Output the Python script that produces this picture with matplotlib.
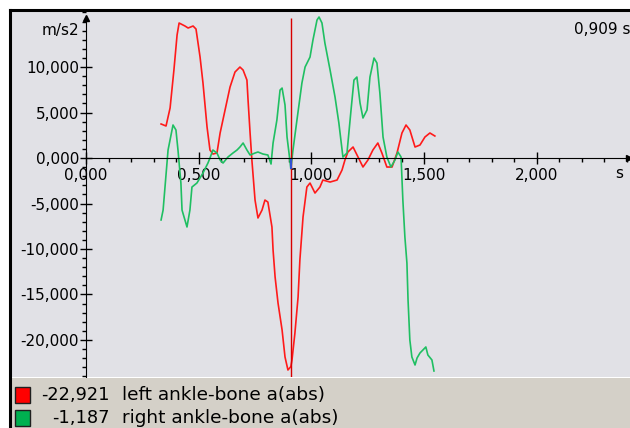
import matplotlib.pyplot as plt
from matplotlib.patches import Rectangle
from matplotlib.lines import Line2D
from matplotlib.ticker import MultipleLocator, FixedLocator, FuncFormatter

# acceleration traces, time in s, acceleration in m/s2
left_t = [0.333, 0.355, 0.373, 0.390, 0.404, 0.413, 0.439, 0.453, 0.475, 0.488,
          0.506, 0.519, 0.537, 0.550, 0.563, 0.581, 0.595, 0.617, 0.639, 0.661,
          0.683, 0.697, 0.714, 0.719, 0.728, 0.736, 0.750, 0.763, 0.781, 0.794,
          0.807, 0.825, 0.830, 0.839, 0.852, 0.870, 0.883, 0.896, 0.909, 0.914,
          0.927, 0.941, 0.949, 0.963, 0.980, 0.994, 1.016, 1.038, 1.051, 1.083,
          1.114, 1.136, 1.149, 1.162, 1.185, 1.207, 1.229, 1.251, 1.273, 1.295,
          1.313, 1.335, 1.358, 1.380, 1.402, 1.420, 1.437, 1.460, 1.482, 1.504,
          1.526, 1.548]
left_a = [3.74, 3.52, 5.50, 9.67, 13.52, 14.84, 14.51, 14.29, 14.51, 14.18,
          11.10, 8.24, 3.41, 0.88, 0.44, 0.55, 2.75, 5.28, 7.80, 9.45,
          10.00, 9.67, 8.57, 6.37, 2.75, -0.22, -4.62, -6.59, -5.72, -4.62,
          -4.84, -7.58, -10.11, -13.08, -15.94, -18.90, -21.87, -23.30, -22.921, -22.20,
          -19.23, -15.28, -11.21, -6.48, -3.19, -2.75, -3.85, -3.19, -2.42, -2.64,
          -2.42, -1.32, -0.22, 0.66, 1.21, 0.11, -0.99, -0.22, 0.88, 1.65,
          0.55, -0.99, -0.99, 0.55, 2.75, 3.63, 3.08, 1.21, 1.43, 2.31,
          2.75, 2.42]

right_t = [0.333, 0.342, 0.364, 0.386, 0.399, 0.408, 0.421, 0.426, 0.448, 0.461,
           0.470, 0.492, 0.519, 0.541, 0.550, 0.563, 0.581, 0.595, 0.608, 0.630,
           0.652, 0.670, 0.683, 0.697, 0.714, 0.728, 0.750, 0.763, 0.785, 0.807,
           0.821, 0.830, 0.847, 0.861, 0.870, 0.883, 0.892, 0.901, 0.909, 0.918,
           0.936, 0.958, 0.972, 0.994, 1.007, 1.025, 1.034, 1.047, 1.060, 1.083,
           1.105, 1.122, 1.140, 1.158, 1.176, 1.189, 1.202, 1.216, 1.229, 1.247,
           1.260, 1.278, 1.291, 1.304, 1.318, 1.335, 1.353, 1.371, 1.384, 1.398,
           1.406, 1.415, 1.424, 1.429, 1.437, 1.446, 1.460, 1.469, 1.482, 1.508,
           1.517, 1.535, 1.544]
right_a = [-6.81, -5.72, 0.88, 3.63, 3.08, 0.88, -2.75, -5.72, -7.58, -5.72,
           -3.19, -2.75, -1.65, -0.55, 0.00, 0.88, 0.55, -0.22, -0.55, 0.11,
           0.55, 0.88, 1.21, 1.65, 0.88, 0.33, 0.55, 0.66, 0.44, 0.33,
           -0.66, 1.65, 4.18, 7.47, 7.69, 5.83, 2.31, 0.50, -1.187, 0.80,
           4.18, 8.24, 10.00, 11.10, 12.97, 15.17, 15.50, 14.84, 12.64, 9.67,
           6.70, 3.85, 0.11, 0.55, 5.28, 8.57, 8.90, 6.04, 4.40, 5.28,
           8.90, 10.99, 10.44, 7.14, 2.31, 0.11, -0.99, -0.22, 0.66, 0.11,
           -4.62, -8.68, -11.54, -15.61, -20.00, -21.87, -22.75, -21.98, -21.43, -20.77,
           -21.65, -22.20, -23.41]

names = ["left ankle-bone a(abs)", "right ankle-bone a(abs)"]
colors = ["#ff1a1a", "#1fbf62"]
swatch_colors = ["#ff0000", "#00b050"]
cursor_t = 0.909

x_ticks = [0.0, 0.5, 1.0, 1.5, 2.0]
x_minor = [0.1, 0.2, 0.3, 0.4, 0.6, 0.7, 0.8, 0.9, 1.1, 1.2, 1.3, 1.4,
           1.6, 1.7, 1.8, 1.9, 2.1, 2.2, 2.3, 2.4]
y_ticks = [-20, -15, -10, -5, 0, 5, 10]


def comma(v, pos=None):
    return f"{v:.3f}".replace(".", ",")


W, H = 630, 428
fig = plt.figure(figsize=(W / 100, H / 100), dpi=100)
fig.patch.set_facecolor("white")

ax = fig.add_axes([11 / W, 51 / H, 619 / W, 365 / H])
ax.set_facecolor("#e1e1e6")
ax.set_xlim(-0.333, 2.414)
ax.set_ylim(-24.07, 16.05)

# axes cross at the origin
for side in ["top", "right"]:
    ax.spines[side].set_visible(False)
ax.spines["left"].set_position(("data", 0))
ax.spines["bottom"].set_position(("data", 0))
ax.spines["left"].set_bounds(-24.07, 15.4)
ax.spines["bottom"].set_bounds(0, 2.41)
ax.plot(0, 15.4, marker="^", color="black", markersize=4, clip_on=False)
ax.plot(2.41, 0, marker=">", color="black", markersize=4, clip_on=False)

ax.set_xticks(x_ticks)
ax.set_yticks(y_ticks)
ax.xaxis.set_minor_locator(FixedLocator(x_minor))
ax.yaxis.set_minor_locator(MultipleLocator(1))
ax.xaxis.set_major_formatter(FuncFormatter(comma))
ax.yaxis.set_major_formatter(FuncFormatter(comma))
ax.tick_params(which="major", direction="inout", length=8, width=1, labelsize=11)
ax.tick_params(which="minor", direction="out", length=3, width=1)
ax.tick_params(axis="x", which="major", pad=3)
ax.tick_params(axis="y", which="major", pad=1)

ax.plot(left_t, left_a, color=colors[0], lw=1.2)
ax.plot(right_t, right_a, color=colors[1], lw=1.2)

# cursor
left_cur = left_a[left_t.index(cursor_t)]
right_cur = right_a[right_t.index(cursor_t)]
ax.vlines(cursor_t, -24.07, 15.4, color="#d80000", lw=1)
ax.vlines(cursor_t, right_cur, 0, color="#3050d0", lw=1.5)

fig.text(79 / W, 1 - 30 / H, "m/s2", ha="right", va="center", fontsize=11)
fig.text(619 / W, 1 - 174 / H, "s", ha="center", va="center", fontsize=11)
fig.text(574 / W, 1 - 30 / H, comma(cursor_t) + " s", ha="left", va="center", fontsize=11)

# legend panel
fig.add_artist(Rectangle((11 / W, 0), 619 / W, 50 / H, transform=fig.transFigure,
                         facecolor="#d4d0c8", edgecolor="none"))
rows = [395, 418]
values = [left_cur, right_cur]
for row, name, col, val in zip(rows, names, swatch_colors, values):
    fig.add_artist(Rectangle((15 / W, 1 - (row + 8) / H), 15 / W, 16 / H,
                             transform=fig.transFigure, facecolor=col,
                             edgecolor="#202020", lw=1))
    fig.text(110 / W, 1 - row / H, comma(val), ha="right", va="center", fontsize=12.8)
    fig.text(122 / W, 1 - row / H, name, ha="left", va="center", fontsize=13.3)

# sunken frame on top and left
fig.add_artist(Line2D([9.5 / W, 9.5 / W], [0, 1 - 9.5 / H], color="black", lw=2.2))
fig.add_artist(Line2D([9.5 / W, 1], [1 - 9.5 / H, 1 - 9.5 / H], color="black", lw=2.2))

fig.savefig("out.png", dpi=100)
